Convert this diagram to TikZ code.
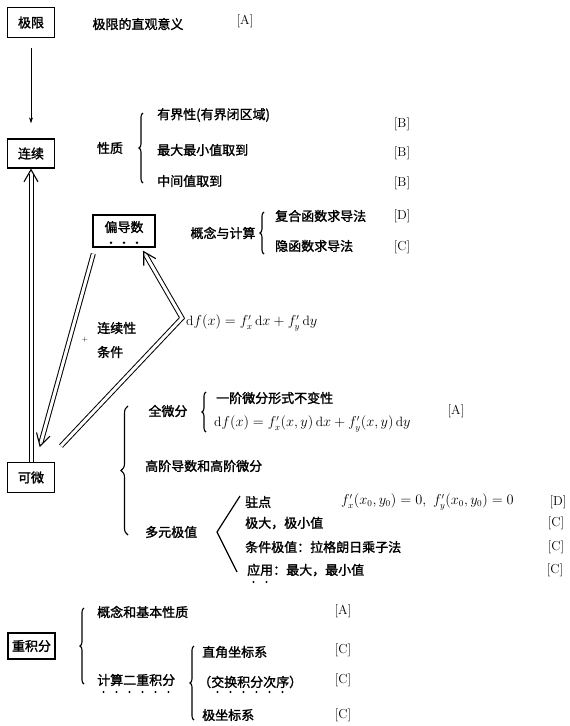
\documentclass[tikz,border=0pt]{standalone}
\usepackage{amsmath}
\usepackage{fontspec}
\newfontfamily\cjk[FakeBold=1.6]{Noto Sans CJK SC}
\usetikzlibrary{arrows.meta,positioning,calc,decorations.pathreplacing}
\tikzset{
  topic/.style={rectangle,draw,line width=1.4pt,minimum width=47pt,minimum height=30pt,inner sep=2pt,font=\cjk\fontsize{13}{15}\selectfont},
  item/.style={inner sep=1pt,font=\cjk\fontsize{13}{15}\selectfont},
  grade/.style={inner sep=1pt,font=\fontsize{13}{15}\selectfont},
  frm/.style={inner sep=1pt,font=\fontsize{13.5}{16}\selectfont},
  arr/.style={-{Stealth[length=6pt,width=4pt]},line width=1pt},
  dbl/.style={double,double distance=3pt,line width=1pt,line join=miter},
  tip/.style={line width=1.1pt,line join=miter},
  brc/.style={decorate,decoration={brace,amplitude=4pt},line width=1.1pt}
}

\begin{document}
\begin{tikzpicture}[x=1pt,y=-1pt]
  \useasboundingbox (0,0) rectangle (570,726);
  % main chain
  \node[topic] (jx) at (31,22.5) {极限};
  \node[topic,minimum height=29pt] (lx) at (31,153.5) {连续};
  \node[topic] (kw) at (31,477.5) {可微};
  \node[topic,minimum height=26pt] (cj) at (31.5,646) {重积分};
  \node[topic,minimum width=62pt,minimum height=32pt,text height=14pt,text depth=12pt,inner sep=3pt] (pd) at (124,231) {偏导数};
  \foreach \i in {-1,0,1} \fill ($(pd.south)+(13*\i,-5)$) circle (1.3pt);
  \draw[arr,shorten <=10pt,shorten >=15pt] (jx) -- (lx);
  % differentiable -> continuous
  \coordinate (lxE) at ([yshift=-1pt]lx.south);
  \draw[dbl] (kw.north) -- ($(lxE)!4pt!(kw.north)$);
  \draw[tip] ($(lxE)!14pt!30:(kw.north)$) -- (lxE) -- ($(lxE)!14pt!-30:(kw.north)$);
  % partial derivative -> differentiable
  \coordinate (pdS) at ([xshift=1pt,yshift=-6pt]pd.south west);
  \coordinate (kwA) at (40,446);
  \draw[dbl] (pdS) -- ($(kwA)!4pt!(pdS)$);
  \draw[tip] ($(kwA)!14pt!30:(pdS)$) -- (kwA) -- ($(kwA)!14pt!-30:(pdS)$);
  % differentiable -> partial derivative
  \coordinate (kwB) at (61,446);
  \coordinate (bend) at (182,318);
  \coordinate (pdE) at ([xshift=-12pt,yshift=-4pt]pd.south east);
  \draw[dbl] (kwB) -- (bend) -- ($(pdE)!4pt!(bend)$);
  \draw[tip] ($(pdE)!14pt!30:(bend)$) -- (pdE) -- ($(pdE)!14pt!-30:(bend)$);
  \node[item,anchor=west] (lxx) at (96,328) {连续性};
  \node[item,anchor=west] (tj) at (96,352) {条件};
  \node[inner sep=0pt,font=\scriptsize] (pl) at (85,340) {+};
  \node[frm,anchor=west] (qwf) at (185,323) {$\mathrm{d}f(x)=f_x'\,\mathrm{d}x+f_y'\,\mathrm{d}y$};

  % limit
  \node[item] (jxy) at (138,24) {极限的直观意义};
  \node[grade] (gA1) at (245,21) {[A]};

  % continuity
  \node[item] (xz) at (110,148) {性质};
  \coordinate (xzT) at (143,113);\coordinate (xzB) at (143,183);
  \draw[brc] (xzB) -- (xzT);
  \node[item,anchor=west] (yj) at (156,115) {有界性(有界闭区域)};
  \node[item,anchor=west] (zd) at (156,150) {最大最小值取到};
  \node[item,anchor=west] (zj) at (156,181) {中间值取到};
  \node[grade] (gB1) at (402,124) {[B]};
  \node[grade] (gB2) at (402,153) {[B]};
  \node[grade] (gB3) at (402,183) {[B]};

  % partial derivative
  \node[item] (gn) at (223,233) {概念与计算};
  \coordinate (gnT) at (264,212);\coordinate (gnB) at (264,254);
  \draw[brc] (gnB) -- (gnT);
  \node[item,anchor=west] (fh) at (274,216) {复合函数求导法};
  \node[item,anchor=west] (yh) at (274,246) {隐函数求导法};
  \node[grade] (gD1) at (402,216) {[D]};
  \node[grade] (gC1) at (402,247) {[C]};

  % differentiable
  \coordinate (kwT) at (128,406);\coordinate (kwBr) at (128,535);
  \draw[brc,decoration={brace,amplitude=7pt}] (kwBr) -- (kwT);
  \node[item] (qw) at (168,411) {全微分};
  \coordinate (qwT) at (206,392);\coordinate (qwBr) at (206,432);
  \draw[brc] (qwBr) -- (qwT);
  \node[item,anchor=west] (yjw) at (215,398) {一阶微分形式不变性};
  \node[frm,anchor=west] (qwg) at (213,424) {$\mathrm{d}f(x)=f_x'(x,y)\,\mathrm{d}x+f_y'(x,y)\,\mathrm{d}y$};
  \node[grade] (gA2) at (456,411) {[A]};
  \node[item,anchor=west] (gj) at (144,466) {高阶导数和高阶微分};
  \node[item,anchor=west] (dy) at (144,532) {多元极值};
  \coordinate (dyT) at (240,496);\coordinate (dyM) at (217,532);\coordinate (dyB) at (237,572);
  \draw[line width=1.2pt] (dyT) -- (dyM) -- (dyB);
  \node[item,anchor=west] (zhd) at (244,502) {驻点};
  \node[frm,anchor=west] (zdf) at (340,502) {$f_x'(x_0,y_0)=0,\ f_y'(x_0,y_0)=0$};
  \node[item,anchor=west] (jd) at (244,523) {极大，极小值};
  \node[item,anchor=west] (tjz) at (244,547) {条件极值：拉格朗日乘子法};
  \node[item,anchor=west] (yy) at (246,570) {应用：最大，最小值};
  \foreach \i in {0,1} \fill ($(yy.west)+(7.5+13*\i,12)$) circle (1.2pt);
  \node[grade] (gD2) at (558,502) {[D]};
  \node[grade] (gC2) at (556,523) {[C]};
  \node[grade] (gC3) at (556,547) {[C]};
  \node[grade] (gC4) at (555,570) {[C]};

  % multiple integral
  \coordinate (cjT) at (84,608);\coordinate (cjBr) at (84,684);
  \draw[brc] (cjBr) -- (cjT);
  \node[item,anchor=west] (gx) at (96,612) {概念和基本性质};
  \node[item,anchor=west] (js) at (96,680) {计算二重积分};
  \foreach \i in {0,...,5} \fill ($(js.west)+(7.5+13*\i,12)$) circle (1.2pt);
  \coordinate (jsT) at (194,646);\coordinate (jsBr) at (194,720);
  \draw[brc] (jsBr) -- (jsT);
  \node[item,anchor=west] (zj2) at (201,652) {直角坐标系};
  \node[item,anchor=west] (jh) at (197,682) {（交换积分次序）};
  \foreach \i in {0,...,5} \fill ($(jh.west)+(20.5+13*\i,10)$) circle (1.2pt);
  \node[item,anchor=west] (jz) at (201,715) {极坐标系};
  \node[grade] (gA3) at (343,611) {[A]};
  \node[grade] (gC5) at (343,650) {[C]};
  \node[grade] (gC6) at (343,680) {[C]};
  \node[grade] (gC7) at (343,715) {[C]};
\end{tikzpicture}
\end{document}
